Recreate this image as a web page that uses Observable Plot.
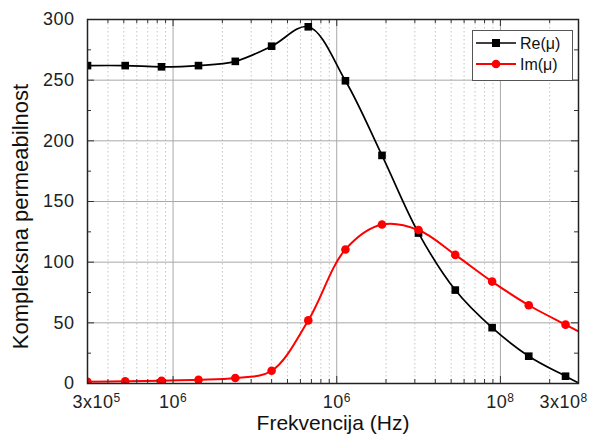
<!DOCTYPE html>
<html>
<head>
<meta charset="utf-8">
<script src="https://cdn.jsdelivr.net/npm/d3@7"></script>
<script src="https://cdn.jsdelivr.net/npm/@observablehq/plot@0.6"></script>
<style>
  body { margin: 0; background: #fff; }
  #wrap { position: relative; width: 590px; height: 437px; font-family: "Liberation Sans", Arial, sans-serif; }
  #legend { position: absolute; left: 472px; top: 30px; }
</style>
</head>
<body>
<div id="wrap"><div id="chart"></div><div id="legend"></div></div>
<script>
// ---- data ----
const freq = [3.0e5, 5.1e5, 8.5e5, 1.43e6, 2.4e6, 4.0e6, 6.7e6, 1.13e7, 1.89e7, 3.16e7, 5.3e7, 8.9e7, 1.49e8, 2.5e8];
const reMu = [262, 262, 261, 262, 265.5, 278, 294, 249.5, 188, 124, 77, 46, 22.5, 6];
const imMu = [1.5, 1.8, 2.3, 3, 4.5, 10.5, 52, 110.5, 131, 126.5, 106, 84, 64.5, 48.5];
const endFreq = 3e8;
const reEnd = 0.5;
const imEnd = 43;
const seriesNames = ["Re(\u03bc)", "Im(\u03bc)"];
const seriesColors = ["#000000", "#ff0000"];
const xTitle = "Frekvencija (Hz)";
const yTitle = "Kompleksna permeabilnost";
const xTickValues = [3e5, 1e6, 1e7, 1e8, 3e8];
const xTickLabels = [["3x10", "5"], ["10", "6"], ["10", "6"], ["10", "8"], ["3x10", "8"]];
const xGrid = [1e6, 1e7, 1e8];
const yTickValues = [0, 50, 100, 150, 200, 250, 300];
const yGrid = [50, 100, 150, 200, 250];
const yMinor = [25, 75, 125, 175, 225, 275];

const xMinor = [];
for (let e = 5; e <= 8; e++) for (let k = 2; k <= 9; k++) {
  const v = k * Math.pow(10, e);
  if (v > 3.01e5 && v < 2.99e8) xMinor.push(v);
}

const W = 590, H = 437, mL = 87, mR = 12, mT = 19, mB = 54;
const frameW = W - mL - mR, frameH = H - mT - mB;

const reData = freq.map((f, i) => ({f, v: reMu[i]}));
const imData = freq.map((f, i) => ({f, v: imMu[i]}));
const reLine = reData.concat([{f: endFreq, v: reEnd}]);
const imLine = imData.concat([{f: endFreq, v: imEnd}]);

const tickStroke = "#333";
const plot = Plot.plot({
  width: W, height: H,
  marginLeft: mL, marginRight: mR, marginTop: mT, marginBottom: mB,
  style: {fontFamily: "'Liberation Sans', Arial, sans-serif", background: "white", color: "#222"},
  x: {type: "log", domain: [3e5, 3e8]},
  y: {domain: [0, 300]},
  marks: [
    Plot.gridX(xMinor, {stroke: "#c4c4c4", strokeOpacity: 1, strokeDasharray: "1.5,2.5"}),
    Plot.gridY(yGrid, {stroke: "#a8a8a8", strokeOpacity: 1}),
    Plot.gridX(xGrid, {stroke: "#a8a8a8", strokeOpacity: 1}),
    Plot.line(reLine, {x: "f", y: "v", stroke: seriesColors[0], strokeWidth: 1.7, curve: "catmull-rom", clip: true}),
    Plot.line(imLine, {x: "f", y: "v", stroke: seriesColors[1], strokeWidth: 2, curve: "catmull-rom", clip: true}),
    Plot.dot(reData, {x: "f", y: "v", symbol: "square", r: 4.3, fill: seriesColors[0], clip: true}),
    Plot.dot(imData, {x: "f", y: "v", symbol: "circle", r: 4.3, fill: seriesColors[1], clip: true}),
    // inward ticks
    Plot.tickX(xTickValues, {x: d => d, insetTop: frameH - 7, stroke: tickStroke}),
    Plot.tickX(xTickValues, {x: d => d, insetBottom: frameH - 7, stroke: tickStroke}),
    Plot.tickX(xMinor, {x: d => d, insetTop: frameH - 4, stroke: tickStroke}),
    Plot.tickX(xMinor, {x: d => d, insetBottom: frameH - 4, stroke: tickStroke}),
    Plot.tickY(yTickValues, {y: d => d, insetRight: frameW - 7, stroke: tickStroke}),
    Plot.tickY(yTickValues, {y: d => d, insetLeft: frameW - 7, stroke: tickStroke}),
    Plot.tickY(yMinor, {y: d => d, insetRight: frameW - 4, stroke: tickStroke}),
    Plot.tickY(yMinor, {y: d => d, insetLeft: frameW - 4, stroke: tickStroke}),
    Plot.frame({stroke: "#222", strokeWidth: 1.5}),
    Plot.axisX(xTickValues, {tickSize: 0, tickPadding: 12, fontSize: 18, label: null, tickFormat: d => String(d)}),
    Plot.axisY(yTickValues, {tickSize: 0, tickPadding: 13, fontSize: 18, label: null}),
    Plot.text([xTitle], {text: d => d, frameAnchor: "bottom", textAnchor: "middle", lineAnchor: "middle", dy: 40, fontSize: 21, fill: "#111"}),
    Plot.text([yTitle], {text: d => d, frameAnchor: "left", textAnchor: "middle", lineAnchor: "middle", dx: -67, dy: 15, rotate: -90, fontSize: 22, fill: "#111"})
  ]
});
document.getElementById("chart").appendChild(plot);

// superscript tick labels
const shifts = [9, 0, 0, 0, -15];
d3.select(plot).selectAll('[aria-label="x-axis tick label"] text').each(function(d, i) {
  const t = d3.select(this);
  t.text(null);
  const lab = xTickLabels[i];
  t.attr("dx", shifts[i] || 0);
  t.append("tspan").text(lab[0]);
  t.append("tspan").attr("font-size", 12).attr("dy", "-0.55em").text(lab[1]);
});
d3.select(plot).selectAll('[aria-label="x-axis tick label"], [aria-label="y-axis tick label"]').attr("letter-spacing", "0.5px");

// legend
const lg = d3.select("#legend").append("svg").attr("width", 101).attr("height", 51);
lg.append("rect").attr("x", 0.5).attr("y", 0.5).attr("width", 100).attr("height", 50)
  .attr("fill", "white").attr("stroke", "#555");
seriesNames.forEach((name, i) => {
  const yy = 13 + i * 21;
  lg.append("line").attr("x1", 4).attr("x2", 44).attr("y1", yy).attr("y2", yy)
    .attr("stroke", seriesColors[i]).attr("stroke-width", i ? 2 : 1.7);
  if (i === 0) lg.append("rect").attr("x", 20).attr("y", yy - 4).attr("width", 8).attr("height", 8).attr("fill", seriesColors[i]);
  else lg.append("circle").attr("cx", 24).attr("cy", yy).attr("r", 4.3).attr("fill", seriesColors[i]);
  lg.append("text").attr("x", 48).attr("y", yy).attr("dy", "0.35em").attr("font-size", 16)
    .attr("font-family", "'Liberation Sans', Arial, sans-serif").attr("fill", "#111").text(name);
});
</script>
</body>
</html>
